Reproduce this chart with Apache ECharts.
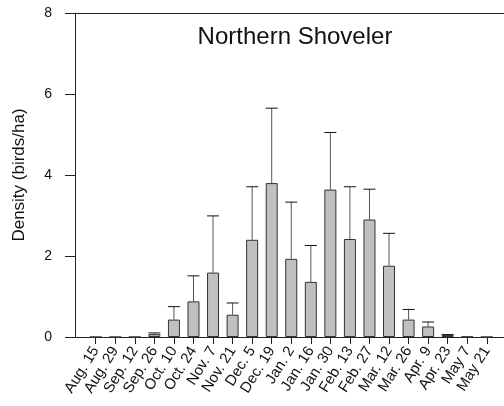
<!DOCTYPE html>
<html><head><meta charset="utf-8">
<script src="https://cdn.jsdelivr.net/npm/echarts@6/dist/echarts.min.js"></script>
<style>html,body{margin:0;padding:0;background:#fff}#c{width:504px;height:406px}</style>
</head><body><div id="c"></div>
<script>
var categories = ['Aug. 15','Aug. 29','Sep. 12','Sep. 26','Oct. 10','Oct. 24','Nov. 7','Nov. 21','Dec. 5','Dec. 19','Jan. 2','Jan. 16','Jan. 30','Feb. 13','Feb. 27','Mar. 12','Mar. 26','Apr. 9','Apr. 23','May 7','May 21'];
var meanValues = [0,0,0,0.07,0.43,0.88,1.59,0.55,2.40,3.80,1.93,1.36,3.64,2.42,2.90,1.76,0.43,0.26,0.05,0.01,0];
var upperValues = [null,null,null,0.10,0.75,1.51,2.99,0.84,3.71,5.65,3.33,2.26,5.05,3.71,3.65,2.56,0.68,0.37,0.06,null,null];
var yTicks = [0,2,4,6,8];
var titleText = 'Northern Shoveler';
var yName = 'Density (birds/ha)';

var idx = categories.map(function(_, i){ return i; });
var barData = meanValues.map(function(v, i){ return [i, v]; });
var errData = [];
upperValues.forEach(function(u, i){ if (u !== null) errData.push([i, meanValues[i], u]); });

var font = 'Liberation Sans, Arial, Helvetica, sans-serif';
var chart = echarts.init(document.getElementById('c'));
chart.setOption({
  animation: false,
  title: { text: titleText, left: 290, top: 20, textAlign: 'center',
    textStyle: { fontFamily: font, fontSize: 24, fontWeight: 'normal', color: '#111' } },
  grid: { left: 75, right: 0, top: 13, bottom: 69, containLabel: false },
  xAxis: [{
    type: 'value', min: -1.06, max: 20.88,
    splitLine: { show: false },
    axisLine: { show: true, onZero: false, lineStyle: { color: '#222', width: 1 } },
    axisTick: { show: true, customValues: idx, length: 7, lineStyle: { color: '#222' } },
    axisLabel: { customValues: idx, rotate: 58, margin: 11, fontFamily: font, fontSize: 15, color: '#111',
      formatter: function(v){ return categories[Math.round(v)]; } }
  }, {
    type: 'value', position: 'top', min: -1.06, max: 20.88,
    splitLine: { show: false },
    axisLine: { show: true, onZero: false, lineStyle: { color: '#222', width: 1 } },
    axisTick: { show: false }, axisLabel: { show: false }
  }],
  yAxis: {
    type: 'value', min: 0, max: 8, interval: 2,
    name: yName, nameLocation: 'middle', nameGap: 47, nameRotate: 90,
    nameTextStyle: { fontFamily: font, fontSize: 17, color: '#111' },
    splitLine: { show: false },
    axisLine: { show: true, onZero: false, lineStyle: { color: '#222', width: 1 } },
    axisTick: { show: true, inside: false, length: 10, lineStyle: { color: '#222' } },
    axisLabel: { margin: 23, fontFamily: font, fontSize: 14, color: '#111',
      formatter: function(v){ return yTicks.indexOf(v) >= 0 ? String(v) : ''; } }
  },
  series: [{
    type: 'bar', data: barData, barWidth: 12,
    itemStyle: { color: '#c0c0c0', borderColor: '#333', borderWidth: 1 }
  }, {
    type: 'custom', data: errData, z: 1,
    renderItem: function(params, api){
      var x = api.value(0);
      var top = api.coord([x, api.value(2)]);
      var base = api.coord([x, api.value(1)]);
      var hw = 6;
      return { type: 'group', children: [
        { type: 'line', shape: { x1: top[0], y1: base[1], x2: top[0], y2: top[1] },
          style: { stroke: '#555', lineWidth: 1 } },
        { type: 'line', shape: { x1: top[0]-hw, y1: top[1], x2: top[0]+hw, y2: top[1] },
          style: { stroke: '#111', lineWidth: 1 } }
      ]};
    }
  }]
});
</script></body></html>
